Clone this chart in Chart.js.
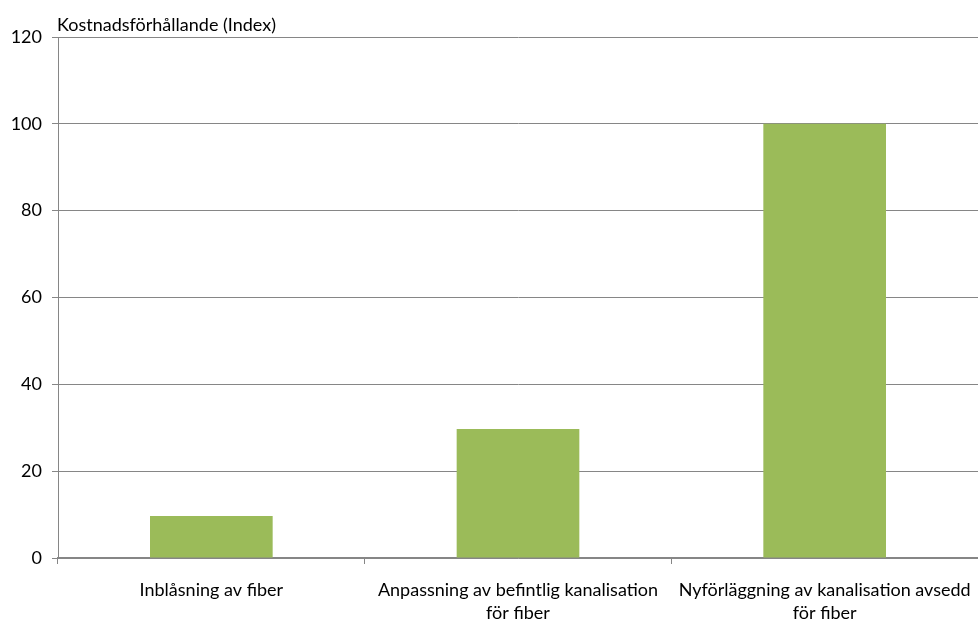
<!DOCTYPE html>
<html>
<head>
<meta charset="utf-8">
<script src="https://cdn.jsdelivr.net/npm/chart.js@4"></script>
<style>
  html, body { margin: 0; padding: 0; background: #fff; }
  #wrap { width: 978px; height: 620px; }
</style>
</head>
<body>
<div id="wrap"><canvas id="chart" width="978" height="620"></canvas></div>
<script>
// Data
const categories = [
    ['Inblåsning av fiber'],
    ['Anpassning av befintlig kanalisation', 'för fiber'],
    ['Nyförläggning av kanalisation avsedd', 'för fiber']
];
const costIndex = [9.7, 29.7, 100];
const yTitle = 'Kostnadsförhållande (Index)';

const FONT = "Lato, 'Open Sans', sans-serif";

// Draws the axis caption above the plot, left aligned with the y axis
const captionPlugin = {
    id: 'caption',
    afterDraw(chart) {
        const { ctx, chartArea } = chart;
        ctx.save();
        ctx.font = '18px ' + FONT;
        ctx.fillStyle = '#000';
        ctx.textAlign = 'left';
        ctx.textBaseline = 'middle';
        ctx.fillText(yTitle, chartArea.left - 1, chartArea.top - 12);
        ctx.restore();
    }
};

new Chart(document.getElementById('chart').getContext('2d'), {
    type: 'bar',
    data: {
        labels: categories,
        datasets: [{
            data: costIndex,
            backgroundColor: '#9BBB59',
            borderWidth: 0,
            barPercentage: 0.4,
            categoryPercentage: 1.0
        }]
    },
    options: {
        responsive: false,
        animation: false,
        layout: { padding: { top: 37, right: 0, left: 0, bottom: 0 } },
        plugins: {
            legend: { display: false },
            tooltip: { enabled: false }
        },
        scales: {
            x: {
                grid: {
                    display: true,
                    drawOnChartArea: false,
                    offset: true,
                    color: '#868686',
                    tickLength: 6
                },
                border: { color: '#868686', width: 1.5 },
                ticks: {
                    color: '#000',
                    font: { family: FONT, size: 18, lineHeight: 1.3 },
                    padding: 14,
                    autoSkip: false,
                    maxRotation: 0,
                    minRotation: 0
                },
                afterFit(scale) {
                    scale.height = 62;
                    scale.paddingLeft = 0;
                    scale.paddingRight = 0;
                }
            },
            y: {
                min: 0,
                max: 120,
                ticks: {
                    stepSize: 20,
                    color: '#000',
                    font: { family: FONT, size: 18 },
                    padding: 10
                },
                grid: {
                    color: '#868686',
                    tickLength: 6
                },
                border: { color: '#868686', width: 1 },
                afterFit(scale) {
                    scale.width = 58;
                }
            }
        }
    },
    plugins: [captionPlugin]
});
</script>
</body>
</html>
